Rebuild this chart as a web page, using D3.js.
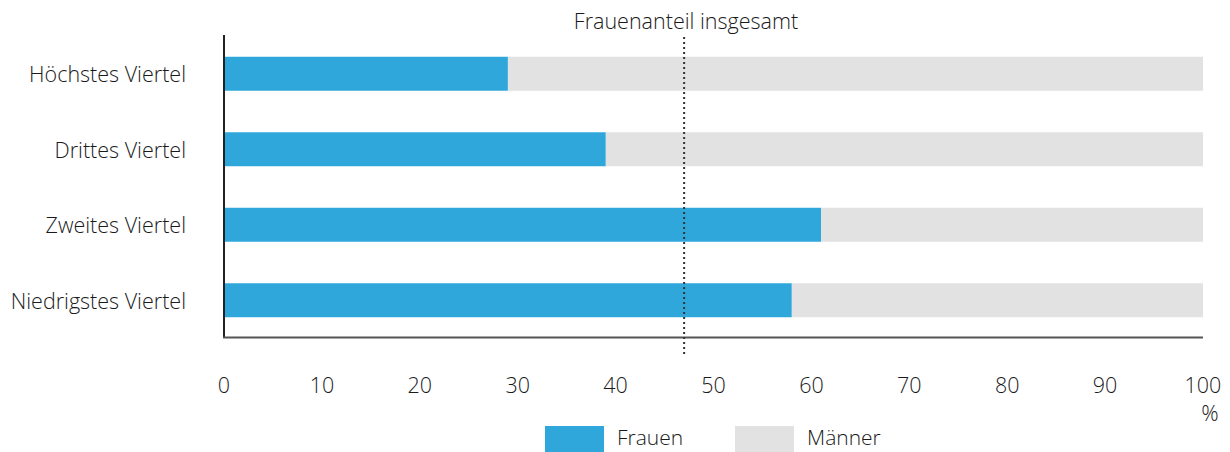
<!DOCTYPE html>
<html>
<head>
<meta charset="utf-8">
<script src="https://cdn.jsdelivr.net/npm/d3@7"></script>
<style>
  html, body { margin: 0; padding: 0; background: #fff; }
  svg text { font-family: "Open Sans", sans-serif; font-weight: 300; fill: #1a1a1a; }
</style>
</head>
<body>
<svg id="chart" width="1230" height="452"></svg>
<script>
const categories = ["Höchstes Viertel", "Drittes Viertel", "Zweites Viertel", "Niedrigstes Viertel"];
const frauen = [29, 39, 61, 58];
const maenner = [71, 61, 39, 42];
const xTicks = [0, 10, 20, 30, 40, 50, 60, 70, 80, 90, 100];
const frauenanteilInsgesamt = 47;
const seriesNames = ["Frauen", "Männer"];
const colors = ["#2fa7db", "#e2e2e2"];

const FS = 21.5;
const svg = d3.select("#chart");
const x = d3.scaleLinear().domain([0, 100]).range([224, 1203]);
const y = d3.scaleBand().domain(categories).range([36, 338]).paddingInner(0.55).paddingOuter(0.275);

const stackData = categories.map((c, i) => ({ cat: c, Frauen: frauen[i], "Männer": maenner[i] }));
const stack = d3.stack().keys(seriesNames)(stackData);

svg.append("g").selectAll("g").data(stack).join("g")
  .attr("fill", (d, i) => colors[i])
  .selectAll("rect").data(d => d).join("rect")
  .attr("x", d => x(d[0]))
  .attr("width", d => x(d[1]) - x(d[0]))
  .attr("y", d => y(d.data.cat))
  .attr("height", y.bandwidth());

// category labels
svg.append("g").selectAll("text").data(categories).join("text")
  .attr("x", 186).attr("y", d => y(d) + y.bandwidth() / 2)
  .attr("text-anchor", "end").attr("dominant-baseline", "central")
  .attr("font-size", FS).text(d => d);

// axes lines
svg.append("line").attr("x1", 224).attr("x2", 224).attr("y1", 35).attr("y2", 338)
  .attr("stroke", "#222").attr("stroke-width", 2);
svg.append("line").attr("x1", 223).attr("x2", x(100)).attr("y1", 337.5).attr("y2", 337.5)
  .attr("stroke", "#555").attr("stroke-width", 2);

// x tick labels
svg.append("g").selectAll("text").data(xTicks).join("text")
  .attr("x", d => x(d)).attr("y", 393)
  .attr("text-anchor", "middle").attr("font-size", FS).text(d => d);
svg.append("text").attr("x", 1210).attr("y", 421).attr("text-anchor", "middle")
  .attr("font-size", FS).text("%");

// reference line
svg.append("line").attr("x1", x(frauenanteilInsgesamt)).attr("x2", x(frauenanteilInsgesamt))
  .attr("y1", 37).attr("y2", 354)
  .attr("stroke", "#333").attr("stroke-width", 2).attr("stroke-dasharray", "2,3");
svg.append("text").attr("x", 686).attr("y", 29).attr("text-anchor", "middle")
  .attr("font-size", FS).text("Frauenanteil insgesamt");

// legend
const legX = [545, 735];
const lg = svg.append("g").selectAll("g").data(seriesNames).join("g");
lg.append("rect").attr("x", (d, i) => legX[i]).attr("y", 426).attr("width", 59).attr("height", 26)
  .attr("fill", (d, i) => colors[i]);
lg.append("text").attr("x", (d, i) => legX[i] + 72).attr("y", 437)
  .attr("dominant-baseline", "central").attr("font-size", 21).text(d => d);
</script>
</body>
</html>
